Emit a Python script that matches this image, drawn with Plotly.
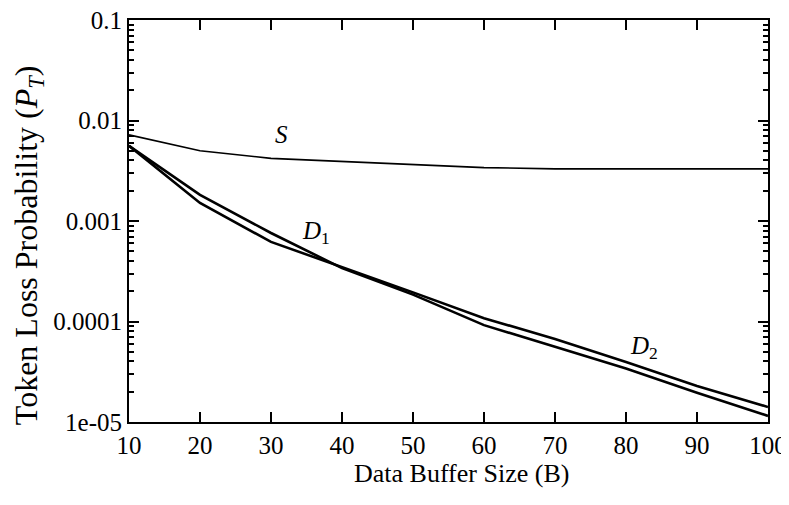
import math
import plotly.graph_objects as go

buffer_size = [10, 20, 30, 40, 50, 60, 70, 80, 90, 100]
s_values = [0.0072, 0.0050, 0.0042, 0.0039, 0.0036, 0.0034, 0.0033, 0.0033, 0.0033, 0.0033]
d1_values = [0.0056, 0.00182, 0.00076, 0.00034, 0.000185, 9.2e-5, 5.6e-5, 3.4e-5, 1.95e-5, 1.15e-5]
d2_values = [0.0056, 0.00151, 0.00062, 0.00035, 0.000195, 1.08e-4, 6.7e-5, 3.95e-5, 2.28e-5, 1.41e-5]

x_ticks = [10, 20, 30, 40, 50, 60, 70, 80, 90, 100]
y_ticks = [1e-5, 1e-4, 1e-3, 1e-2, 1e-1]
y_tick_labels = ["1e-05", "0.0001", "0.001", "0.01", "0.1"]
y_minor = [m * d for d in [1e-5, 1e-4, 1e-3, 1e-2] for m in range(2, 10)]

curve_labels = ["<i>S</i>", "<i>D</i><sub>1</sub>", "<i>D</i><sub>2</sub>"]
label_x = [31.5, 36.4, 82.6]
label_y = [0.0072, 0.00076, 5.5e-5]

x_title = "Data Buffer Size (B)"
y_title = "Token Loss Probability (<i>P</i><sub><i>T</i></sub>)"

FONT = "Liberation Serif"

fig = go.Figure()
fig.add_trace(go.Scatter(x=buffer_size, y=s_values, mode="lines",
                         line=dict(color="black", width=1.6)))
fig.add_trace(go.Scatter(x=buffer_size, y=d1_values, mode="lines",
                         line=dict(color="black", width=2.6)))
fig.add_trace(go.Scatter(x=buffer_size, y=d2_values, mode="lines",
                         line=dict(color="black", width=2.6)))

for txt, lx, ly in zip(curve_labels, label_x, label_y):
    fig.add_annotation(x=lx, y=math.log10(ly), xref="x", yref="y", text=txt,
                       showarrow=False, font=dict(family=FONT, size=25, color="black"))

fig.add_annotation(x=0.52, y=-0.128, xref="paper", yref="paper", text=x_title,
                   showarrow=False, xanchor="center", yanchor="middle",
                   font=dict(family=FONT, size=26, color="black"))
fig.add_annotation(x=-0.158, y=0.44, xref="paper", yref="paper", text=y_title,
                   showarrow=False, xanchor="center", yanchor="middle", textangle=-90,
                   font=dict(family=FONT, size=32, color="black"))

fig.update_layout(
    width=781, height=489,
    margin=dict(l=121, r=21, t=12, b=75, autoexpand=False),
    paper_bgcolor="white", plot_bgcolor="white",
    showlegend=False,
    font=dict(family=FONT, color="black"),
)
fig.update_xaxes(
    range=[10, 100], tickvals=x_ticks, ticks="inside", ticklen=10, tickwidth=2,
    tickcolor="black", showline=True, linecolor="black", linewidth=2, mirror="ticks",
    showgrid=False, zeroline=False, tickfont=dict(family=FONT, size=25), automargin=False,
    ticklabelstandoff=0, ticklabeloverflow="allow",
)
fig.update_yaxes(
    type="log", range=[-5, -1], tickvals=y_ticks, ticktext=y_tick_labels,
    ticks="inside", ticklen=10, tickwidth=2, tickcolor="black",
    showline=True, linecolor="black", linewidth=2, mirror="ticks",
    showgrid=False, zeroline=False, tickfont=dict(family=FONT, size=25), automargin=False,
    ticklabelstandoff=0, ticklabeloverflow="allow",
    minor=dict(tickvals=y_minor, ticks="inside", ticklen=5, tickwidth=1.5, tickcolor="black", showgrid=False),
)

fig.write_html("out.html")
